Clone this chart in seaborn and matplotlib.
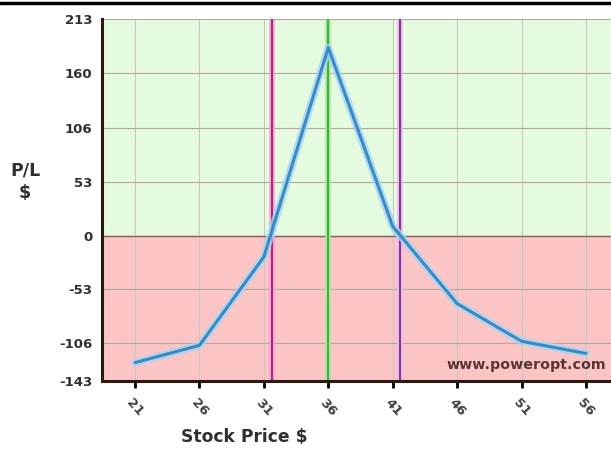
import numpy as np
import matplotlib
matplotlib.use("Agg")
import matplotlib.pyplot as plt
import seaborn as sns
import pandas as pd

# Data
prices = [21, 26, 31, 36, 41, 46, 51, 56]
pl_values = [-125, -108, -21, 185, 9, -67, -104, -116]
y_ticks = [-143, -106, -53, 0, 53, 106, 160, 213]
breakeven_low = 31.6
breakeven_high = 41.6
current_price = 36

sns.set_theme(style="white")
plt.rcParams['font.family'] = ['DejaVu Sans']

df = pd.DataFrame({'price': prices, 'pl': pl_values})

fig = plt.figure(figsize=(6.11, 4.54), dpi=100)
ax = fig.add_axes([0.167, 0.161, 0.833, 0.797])

xmin, xmax = 18.44, 57.94
ymin, ymax = -143, 213

# profit / loss background
ax.axhspan(0, ymax, color='#e5fbe0', zorder=0)
ax.axhspan(ymin, 0, color='#fcc5c5', zorder=0)

# grid
for t in prices:
    ax.axvline(t, color='#c8c8c0', lw=0.8, zorder=1)
for t in y_ticks:
    ax.axhline(t, color='#b0a8a0', lw=0.8, zorder=1)
ax.axhline(0, color='#806060', lw=1.0, zorder=1)

# markers for break-evens and current price
ax.axvline(breakeven_low, color='#f7a0d8', lw=4, zorder=2)
ax.axvline(breakeven_low, color='#a01f70', lw=1.3, zorder=2)
ax.axvline(current_price, color='#a8e8a0', lw=4, zorder=2)
ax.axvline(current_price, color='#40b040', lw=1.5, zorder=2)
ax.axvline(breakeven_high, color='#e8b8f0', lw=4, zorder=2)
ax.axvline(breakeven_high, color='#7a2a80', lw=1.3, zorder=2)

# P/L line with glow
sns.lineplot(data=df, x='price', y='pl', ax=ax, color='#a2d6f4', lw=5.5, alpha=0.8, zorder=3)
sns.lineplot(data=df, x='price', y='pl', ax=ax, color='#3a88c4', lw=2.2, zorder=4)

ax.set_xlim(xmin, xmax)
ax.set_ylim(ymin, ymax)
ax.set_xticks(prices)
ax.set_xticklabels([str(p) for p in prices], rotation=-48, ha='center', va='top',
                   fontsize=9.5, fontweight='bold', color='#404040')
ax.set_yticks(y_ticks)
ax.set_yticklabels([str(t) for t in y_ticks], fontsize=9.5, fontweight='bold', color='#303030')
ax.tick_params(axis='x', length=5, width=2, color='black', pad=6, direction='out', bottom=True)
ax.tick_params(axis='y', length=0, pad=7)
ax.set_xlabel('')
ax.set_ylabel('')

for side in ['top', 'right']:
    ax.spines[side].set_visible(False)
for side in ['left', 'bottom']:
    ax.spines[side].set_color('#2a1a10')
    ax.spines[side].set_linewidth(2.2)

ax.text(0.99, 0.045, 'www.poweropt.com', transform=ax.transAxes, ha='right', va='center',
        fontsize=10.3, fontweight='bold', color='#5a3535', zorder=5)

fig.text(25 / 611, 1 - 182 / 454, 'P/L\n$', ha='center', va='center',
         fontsize=12.5, fontweight='bold', color='#303030', linespacing=1.3)
fig.text(244 / 611, 1 - 437 / 454, 'Stock Price $', ha='center', va='center',
         fontsize=12.3, fontweight='bold', color='#303030')

# top rule
fig.add_artist(plt.Line2D([0, 1], [1 - 2.5 / 454, 1 - 2.5 / 454], color='black', lw=2.5))

fig.savefig('out.png', dpi=100)
